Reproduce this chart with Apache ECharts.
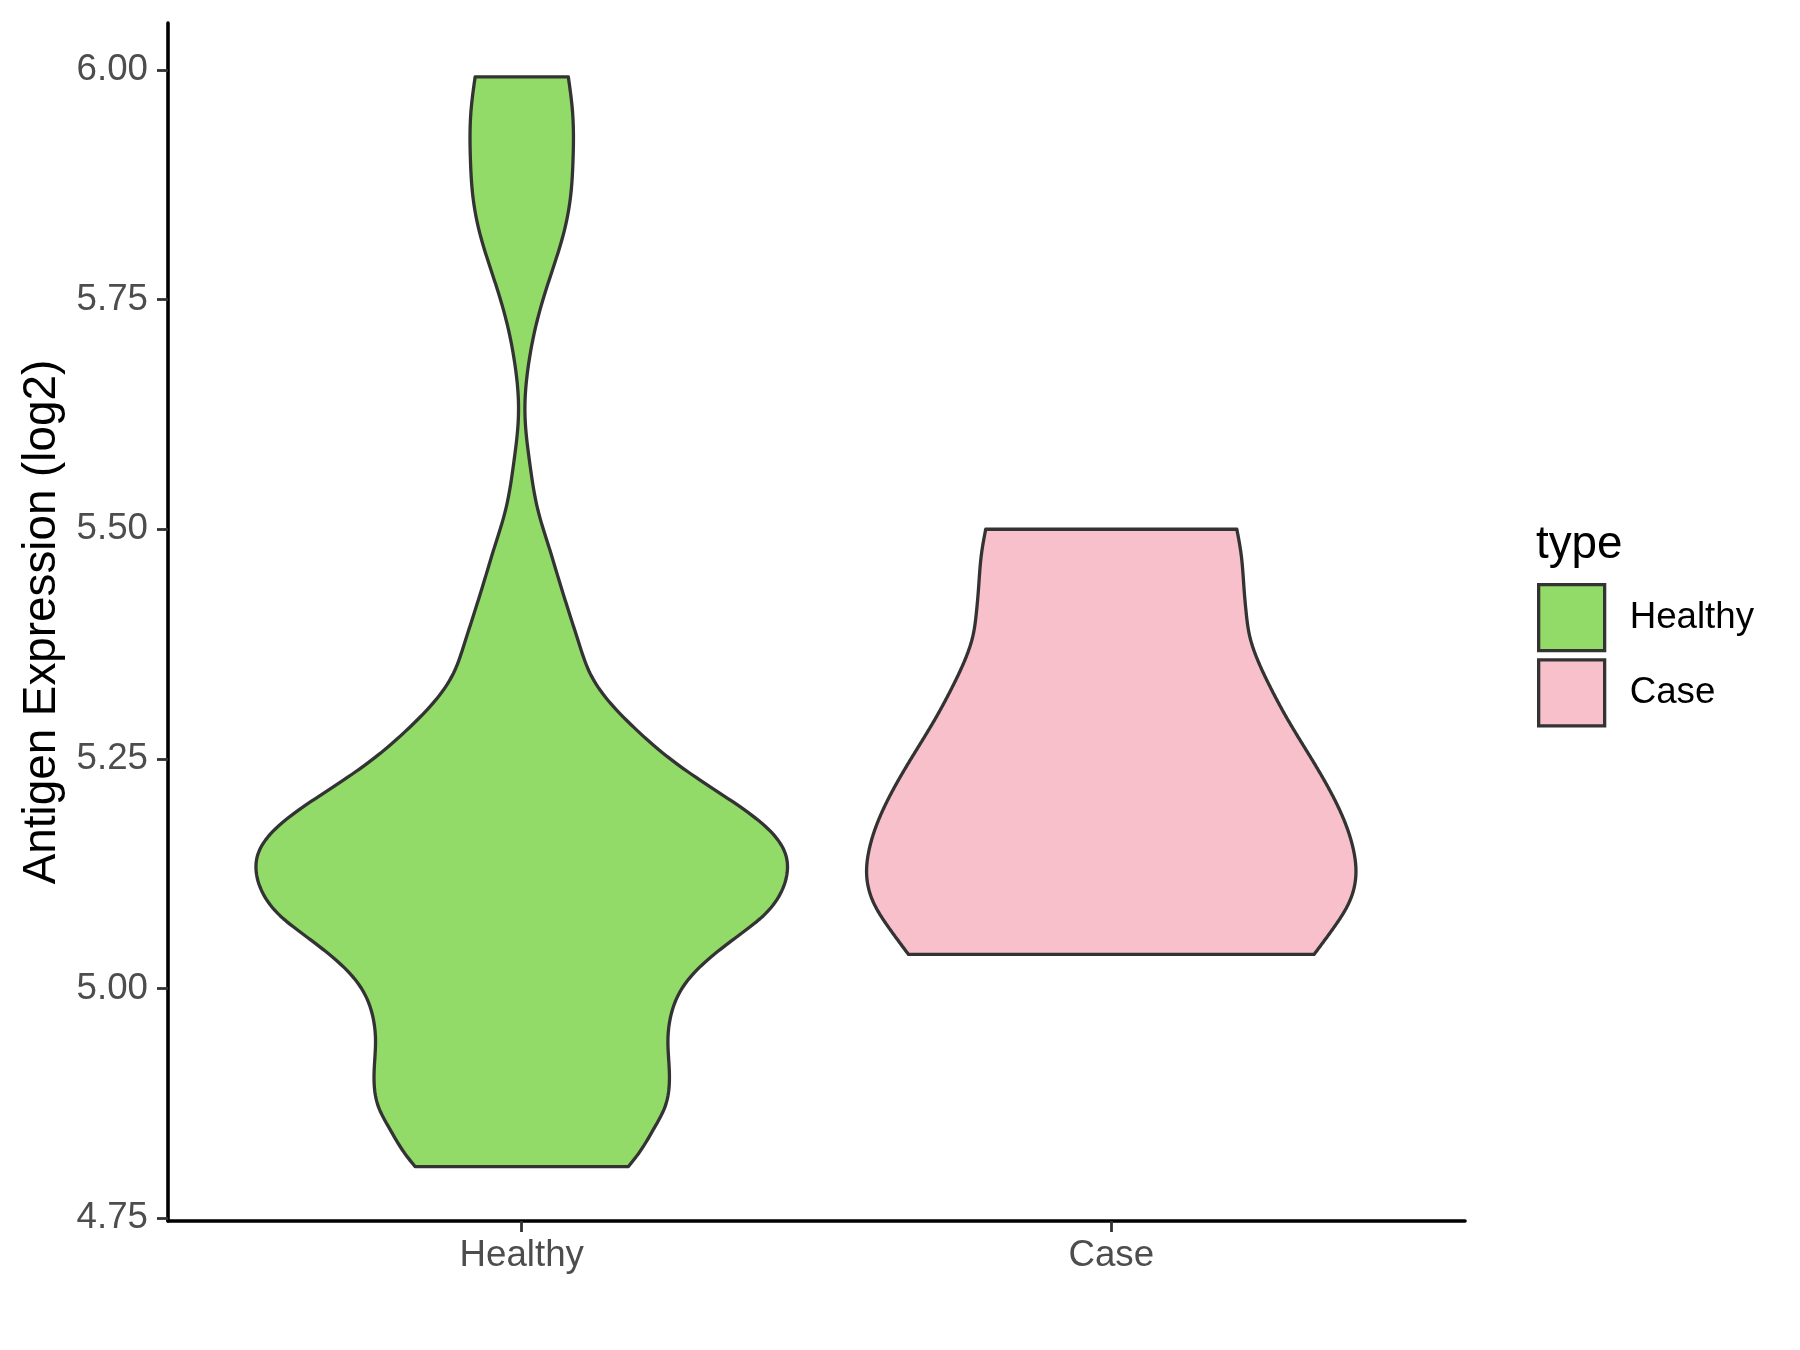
<!DOCTYPE html>
<html><head><meta charset="utf-8">
<script src="https://cdn.jsdelivr.net/npm/echarts@6/dist/echarts.min.js"></script>
<style>html,body{margin:0;padding:0;background:#fff}#chart{width:1800px;height:1350px}</style>
</head><body><div id="chart"></div>
<script>
const categories = ['Healthy', 'Case'];
const yTicks = [4.75, 5.00, 5.25, 5.50, 5.75, 6.00];
const healthyY = [5.9927, 5.956, 5.902, 5.858, 5.822, 5.786, 5.750, 5.713, 5.677, 5.637, 5.612, 5.575, 5.517, 5.481, 5.445, 5.408, 5.372, 5.343, 5.314, 5.285, 5.256, 5.227, 5.198, 5.169, 5.147, 5.125, 5.100, 5.078, 5.062, 5.042, 5.020, 4.998, 4.973, 4.944, 4.915, 4.893, 4.871, 4.846, 4.820, 4.806];
const healthyHalfWidth = [0.079, 0.086, 0.087, 0.082, 0.071, 0.054, 0.036, 0.021, 0.011, 0.0055, 0.0065, 0.013, 0.029, 0.046, 0.063, 0.081, 0.099, 0.116, 0.146, 0.189, 0.240, 0.302, 0.370, 0.425, 0.447, 0.450, 0.436, 0.408, 0.377, 0.336, 0.297, 0.270, 0.254, 0.248, 0.250, 0.250, 0.243, 0.223, 0.198, 0.181];
const caseY = [5.500, 5.474, 5.437, 5.408, 5.383, 5.358, 5.329, 5.292, 5.256, 5.220, 5.183, 5.147, 5.125, 5.093, 5.064, 5.037];
const caseHalfWidth = [0.213, 0.220, 0.225, 0.229, 0.235, 0.248, 0.269, 0.300, 0.334, 0.367, 0.395, 0.412, 0.415, 0.403, 0.375, 0.344];
const fillColors = ['#93DB69', '#F8C0CB'];

const FONT = '"Liberation Sans", Arial, Helvetica, sans-serif';

// natural cubic spline of half-width as a function of y (rendering only)
function makeSpline(xs, fs) {
  const n = xs.length;
  const idx = xs.map((_, i) => i).sort((a, b) => xs[a] - xs[b]);
  const x = idx.map(i => xs[i]), f = idx.map(i => fs[i]);
  const M = new Array(n).fill(0);
  if (n > 2) {
    const a = [], b = [], c = [], d = [];
    for (let i = 1; i < n - 1; i++) {
      const h0 = x[i] - x[i - 1], h1 = x[i + 1] - x[i];
      a.push(h0); b.push(2 * (h0 + h1)); c.push(h1);
      d.push(6 * ((f[i + 1] - f[i]) / h1 - (f[i] - f[i - 1]) / h0));
    }
    const m = b.length;
    for (let i = 1; i < m; i++) {
      const w = a[i] / b[i - 1];
      b[i] -= w * c[i - 1]; d[i] -= w * d[i - 1];
    }
    const sol = new Array(m);
    sol[m - 1] = d[m - 1] / b[m - 1];
    for (let i = m - 2; i >= 0; i--) sol[i] = (d[i] - c[i] * sol[i + 1]) / b[i];
    for (let i = 0; i < m; i++) M[i + 1] = sol[i];
  }
  return {
    lo: x[0], hi: x[n - 1],
    at(t) {
      let k = 0;
      while (k < n - 2 && t > x[k + 1]) k++;
      const h = x[k + 1] - x[k];
      const A = (x[k + 1] - t) / h, B = (t - x[k]) / h;
      return A * f[k] + B * f[k + 1] + ((A * A * A - A) * M[k] + (B * B * B - B) * M[k + 1]) * h * h / 6;
    }
  };
}

function makeRender(ys, hws, fill) {
  const sp = makeSpline(ys, hws);
  return function (params, api) {
    if (params.dataIndex !== 0) return null;
    const center = api.value(0);
    const steps = 400;
    const right = [], left = [];
    for (let s = 0; s <= steps; s++) {
      const t = sp.hi - (sp.hi - sp.lo) * s / steps;
      const w = Math.max(0, sp.at(t));
      right.push(api.coord([center + w, t]));
      left.push(api.coord([center - w, t]));
    }
    left.reverse();
    const pts = right.concat(left);
    return {
      type: 'polygon',
      shape: { points: pts },
      style: { fill: fill, stroke: '#333333', lineWidth: 3.3, lineJoin: 'round' }
    };
  };
}

function seriesFor(idx, ys, hws) {
  return {
    name: categories[idx],
    type: 'custom',
    clip: false,
    itemStyle: { color: fillColors[idx], borderColor: '#333333', borderWidth: 3 },
    renderItem: makeRender(ys, hws, fillColors[idx]),
    encode: { x: 0, y: 1 },
    data: ys.map((y, i) => [idx + 1, y, hws[i]])
  };
}

const chart = echarts.init(document.getElementById('chart'), null, { renderer: 'canvas' });
chart.setOption({
  animation: false,
  backgroundColor: '#ffffff',
  grid: { left: 168, right: 335, top: 23, bottom: 129, containLabel: false },
  xAxis: {
    type: 'value', min: 0.4, max: 2.6,
    splitLine: { show: false },
    axisLine: { show: true, onZero: false, lineStyle: { color: '#000000', width: 3.6 } },
    axisTick: { show: true, customValues: [1, 2], length: 11, lineStyle: { color: '#333333', width: 2.8 } },
    axisLabel: {
      customValues: [1, 2], margin: 16,
      formatter: v => categories[Math.round(v) - 1] || '',
      color: '#4D4D4D', fontSize: 36.7, fontFamily: FONT
    }
  },
  yAxis: {
    type: 'value', min: 4.7467, max: 6.0513,
    name: 'Antigen Expression (log2)', nameLocation: 'middle', nameGap: 102,
    nameTextStyle: { color: '#000000', fontSize: 45.8, fontFamily: FONT },
    splitLine: { show: false },
    axisLine: { show: true, onZero: false, lineStyle: { color: '#000000', width: 3.6 } },
    axisTick: { show: true, customValues: yTicks, length: 11, lineStyle: { color: '#333333', width: 2.8 } },
    axisLabel: {
      customValues: yTicks, margin: 20,
      formatter: v => v.toFixed(2),
      color: '#4D4D4D', fontSize: 36.7, fontFamily: FONT
    }
  },
  legend: {
    data: categories,
    orient: 'vertical', left: 1532, top: 578,
    icon: 'rect', itemWidth: 66, itemHeight: 66, itemGap: 6,
    itemStyle: { borderColor: '#333333', borderWidth: 3.3 },
    textStyle: { color: '#000000', fontSize: 36.7, fontFamily: FONT, padding: [8, 0, 0, 20] },
    selectedMode: false
  },
  graphic: [{
    type: 'text', left: 1536, top: 522,
    style: { text: 'type', font: '45.8px ' + FONT, fill: '#000000' }
  }],
  series: [
    seriesFor(0, healthyY, healthyHalfWidth),
    seriesFor(1, caseY, caseHalfWidth)
  ]
});
</script></body></html>
